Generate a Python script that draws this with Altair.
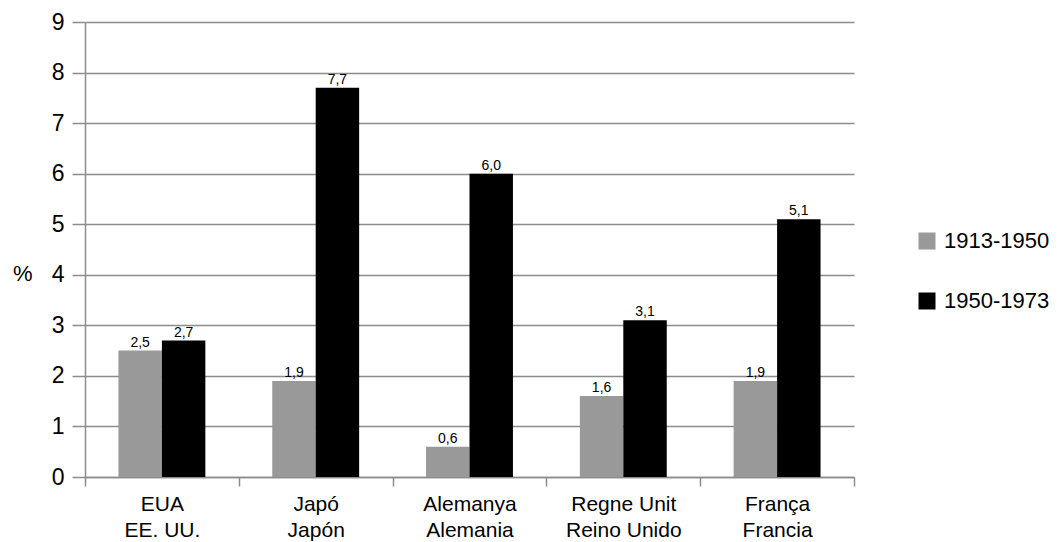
import altair as alt
import pandas as pd

countries = ["EUA\nEE. UU.", "Japó\nJapón", "Alemanya\nAlemania", "Regne Unit\nReino Unido", "França\nFrancia"]
periods = ["1913-1950", "1950-1973"]
v1913 = [2.5, 1.9, 0.6, 1.6, 1.9]
v1950 = [2.7, 7.7, 6.0, 3.1, 5.1]

rows = []
for c, a, b in zip(countries, v1913, v1950):
    rows.append({"country": c, "period": periods[0], "value": a, "label": f"{a:.1f}".replace(".", ",")})
    rows.append({"country": c, "period": periods[1], "value": b, "label": f"{b:.1f}".replace(".", ",")})
df = pd.DataFrame(rows)

FONT = "Liberation Sans"
GRID = "#8c8c8c"

x = alt.X("country:N", sort=countries, title=None,
          scale=alt.Scale(paddingInner=0, paddingOuter=0),
          axis=alt.Axis(labelExpr="split(datum.label, '\\n')", labelAngle=0, labelFontSize=21,
                        labelColor="#000", labelPadding=7, labelLineHeight=26,
                        tickBand="extent", tickSize=9, tickColor=GRID, domainColor=GRID,
                        tickWidth=1.5, domainWidth=1.5, labelFont=FONT))
xo = alt.XOffset("period:N", sort=periods,
                 scale=alt.Scale(paddingInner=0, paddingOuter=0.77))

base = alt.Chart(df).encode(x=x, xOffset=xo)

bars = base.mark_bar().encode(
    y=alt.Y("value:Q", scale=alt.Scale(domain=[0, 9]), title="%",
            axis=alt.Axis(values=list(range(10)), tickSize=13, tickColor=GRID, tickWidth=1.5,
                          gridColor=GRID, gridWidth=1.5, domainColor=GRID, domainWidth=1.5,
                          labelFontSize=23, labelColor="#000", labelPadding=8, labelFont=FONT,
                          titleAngle=0, titleFontSize=22, titleFontWeight="normal", titleFont=FONT,
                          titleColor="#000", titlePadding=29, titleY=263)),
    color=alt.Color("period:N", sort=periods,
                    scale=alt.Scale(domain=periods, range=["#999999", "#000000"]),
                    legend=alt.Legend(title=None, orient="none", legendX=831, legendY=208,
                                      symbolType="square", symbolSize=289, symbolStrokeWidth=0,
                                      labelFontSize=22, labelFont=FONT, labelColor="#000",
                                      labelOffset=6, rowPadding=38, symbolOpacity=1)),
)

text = base.mark_text(dy=-8, fontSize=14, font=FONT, color="#000").encode(
    y="value:Q", text="label:N")

chart = alt.layer(bars, text).properties(
    width=769, height=455,
    padding={"left": 4, "top": 3, "right": 5, "bottom": 5},
).configure_view(stroke=None)

chart.save("out.html", embed_options={"renderer": "svg", "actions": False})
